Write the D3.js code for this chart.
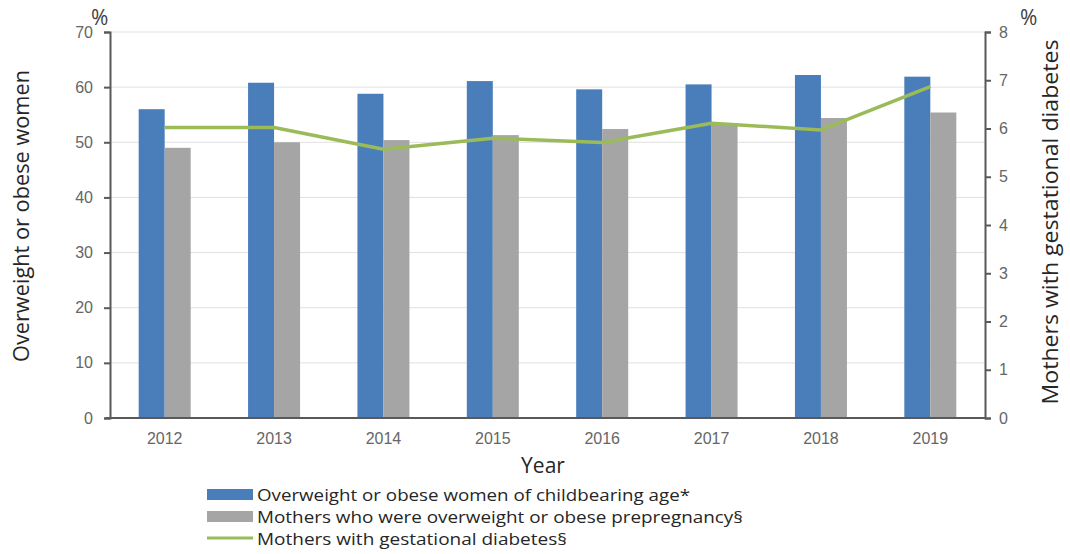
<!DOCTYPE html>
<html>
<head>
<meta charset="utf-8">
<script src="https://cdn.jsdelivr.net/npm/d3@7"></script>
<style>
  body { margin: 0; background: #fff; }
  svg { display: block; font-family: "Open Sans", "Noto Sans", sans-serif; }
</style>
</head>
<body>
<svg id="chart" width="1070" height="554"></svg>
<script>
const years = ["2012", "2013", "2014", "2015", "2016", "2017", "2018", "2019"];
const overweightWomen = [56.0, 60.8, 58.8, 61.1, 59.6, 60.5, 62.2, 61.9];
const overweightMothers = [49.0, 50.0, 50.4, 51.3, 52.4, 53.5, 54.4, 55.4];
const gestationalDiabetes = [6.02, 6.02, 5.57, 5.80, 5.71, 6.11, 5.97, 6.87];
const leftTicks = [0, 10, 20, 30, 40, 50, 60, 70];
const rightTicks = [0, 1, 2, 3, 4, 5, 6, 7, 8];
const seriesNames = [
  "Overweight or obese women of childbearing age*",
  "Mothers who were overweight or obese prepregnancy§",
  "Mothers with gestational diabetes§"
];

const colBlue = "#4a7ebb", colGray = "#a5a5a5", colGreen = "#9bbb59";
const svg = d3.select("#chart");
const L = 110, R = 985, T = 32, B = 418;

const x = d3.scaleBand().domain(years).range([L, R]);
const yL = d3.scaleLinear().domain([0, 70]).range([B, T]);
const yR = d3.scaleLinear().domain([0, 8]).range([B, T]);
const barW = 26;

// gridlines
svg.append("g").selectAll("line").data(leftTicks.slice(1)).join("line")
  .attr("x1", L).attr("x2", R).attr("y1", d => yL(d)).attr("y2", d => yL(d))
  .attr("stroke", "#e0e0e0").attr("stroke-width", 1);

// bars
const cx = d => x(d) + x.bandwidth() / 2;
svg.append("g").selectAll("rect").data(years).join("rect")
  .attr("x", d => cx(d) - barW).attr("width", barW)
  .attr("y", (d, i) => yL(overweightWomen[i]))
  .attr("height", (d, i) => B - yL(overweightWomen[i]))
  .attr("fill", colBlue);
svg.append("g").selectAll("rect").data(years).join("rect")
  .attr("x", d => cx(d)).attr("width", barW)
  .attr("y", (d, i) => yL(overweightMothers[i]))
  .attr("height", (d, i) => B - yL(overweightMothers[i]))
  .attr("fill", colGray);

// line
const line = d3.line().x((d, i) => cx(years[i])).y(d => yR(d));
svg.append("path").datum(gestationalDiabetes)
  .attr("d", line).attr("fill", "none")
  .attr("stroke", colGreen).attr("stroke-width", 3.5).attr("stroke-linejoin", "round");

// axes
const axL = svg.append("g").attr("transform", `translate(${L},0)`)
  .call(d3.axisLeft(yL).tickValues(leftTicks).tickSize(6).tickPadding(11));
const axR = svg.append("g").attr("transform", `translate(${R},0)`)
  .call(d3.axisRight(yR).tickValues(rightTicks).tickSize(6).tickPadding(8));
const axB = svg.append("g").attr("transform", `translate(0,${B})`)
  .call(d3.axisBottom(x).tickSize(0).tickPadding(15));
[axL, axR, axB].forEach(a => {
  a.select(".domain").attr("stroke", "#595959").attr("stroke-width", 2);
  a.selectAll(".tick line").attr("stroke", "#595959").attr("stroke-width", 2);
  a.selectAll("text").attr("fill", "#666").style("font-size", "16px");
});
axB.select(".domain").attr("d", `M${L - 4},0H${R}`);

// unit labels
svg.append("text").attr("x", 91).attr("y", 25).text("%")
  .attr("fill", "#404040").style("font-size", "21px");
svg.append("text").attr("x", 1020).attr("y", 25).text("%")
  .attr("fill", "#404040").style("font-size", "21px");

// axis titles
svg.append("text").attr("transform", "translate(29,216) rotate(-90)")
  .attr("text-anchor", "middle").text("Overweight or obese women")
  .attr("textLength", 292).attr("lengthAdjust", "spacingAndGlyphs")
  .attr("fill", "#262626").style("font-size", "22px");
svg.append("text").attr("transform", "translate(1058,222) rotate(-90)")
  .attr("text-anchor", "middle").text("Mothers with gestational diabetes")
  .attr("textLength", 365).attr("lengthAdjust", "spacingAndGlyphs")
  .attr("fill", "#262626").style("font-size", "22px");
svg.append("text").attr("x", 543).attr("y", 473).attr("text-anchor", "middle")
  .text("Year").attr("fill", "#262626").style("font-size", "21px");

// legend
const lg = svg.append("g");
const rows = [0, 1, 2];
const legendLen = [433, 486, 310];
lg.selectAll("rect").data(rows.slice(0, 2)).join("rect")
  .attr("x", 207).attr("y", d => 489 + d * 22).attr("width", 46).attr("height", 11)
  .attr("fill", d => d === 0 ? colBlue : colGray);
lg.append("line").attr("x1", 207).attr("x2", 253).attr("y1", 538).attr("y2", 538)
  .attr("stroke", colGreen).attr("stroke-width", 3);
lg.selectAll("text").data(rows).join("text")
  .attr("x", 257).attr("y", d => 501 + d * 22)
  .text(d => seriesNames[d])
  .attr("textLength", d => legendLen[d]).attr("lengthAdjust", "spacingAndGlyphs")
  .attr("fill", "#262626").style("font-size", "17px");
</script>
</body>
</html>
